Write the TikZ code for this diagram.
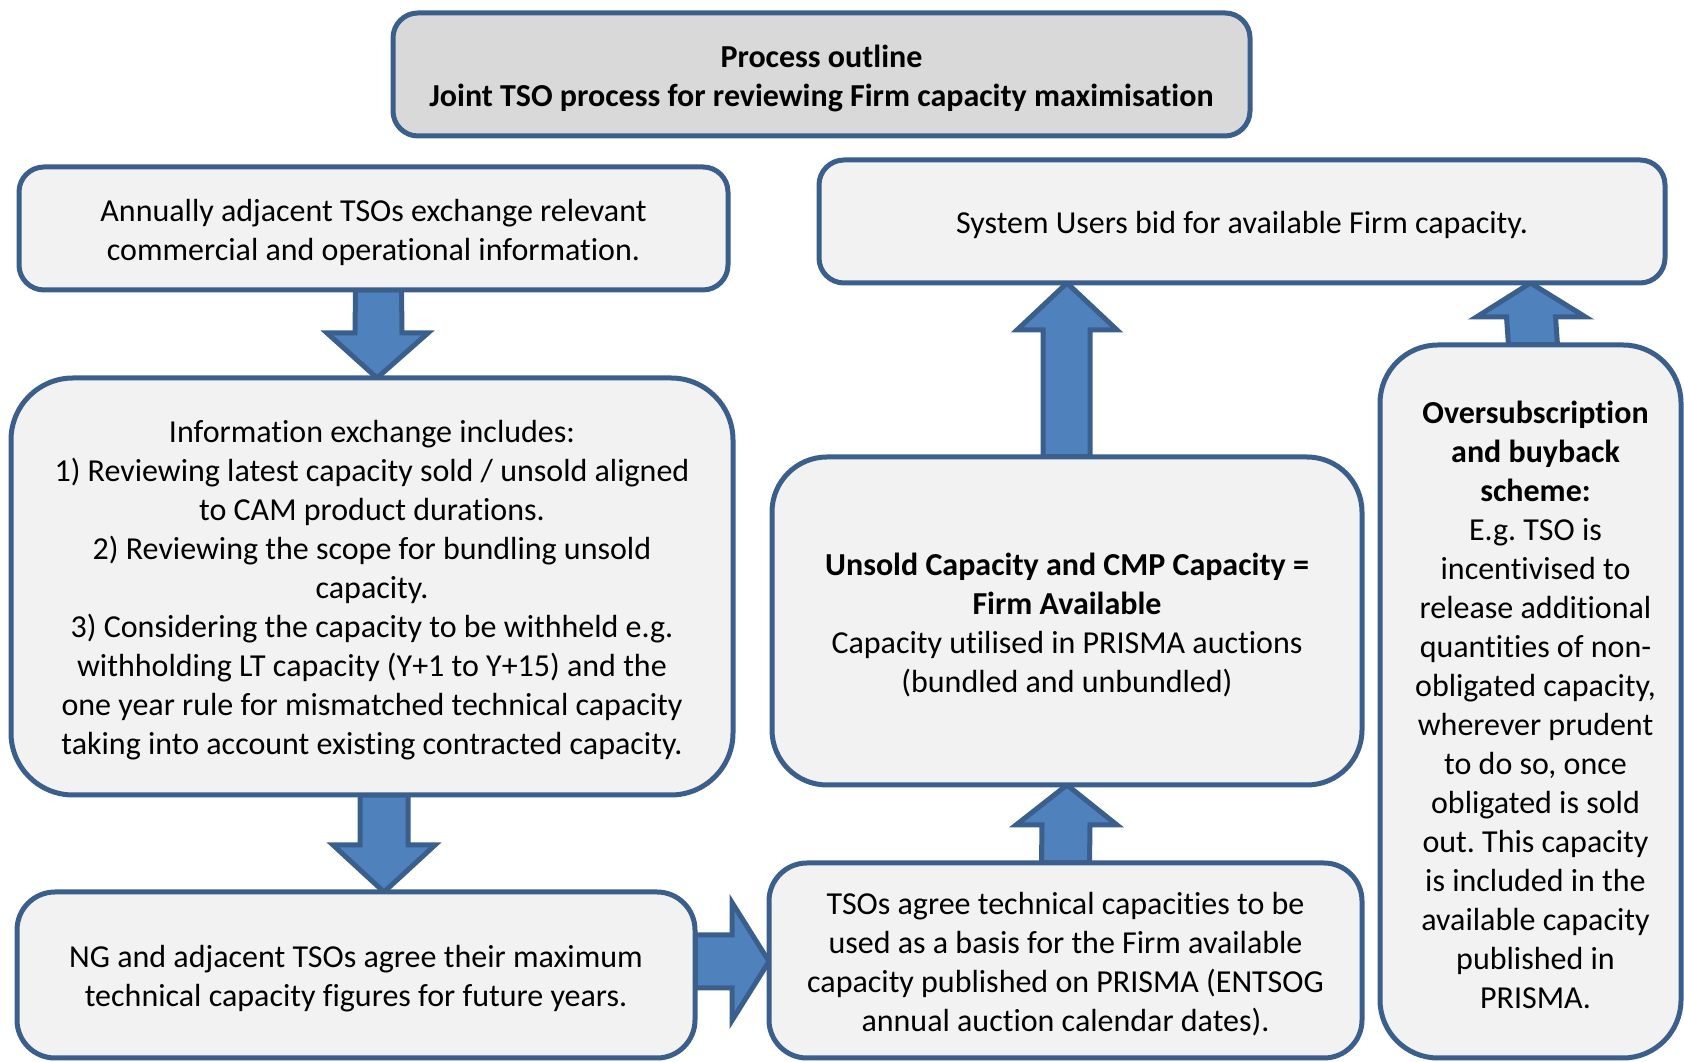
\documentclass[tikz,border=0pt]{standalone}
\usepackage{fontspec}
\setmainfont[Ligatures=NoCommon]{Carlito}
\usepackage{tikz}
\usepackage{xcolor}
\usetikzlibrary{positioning, calc, backgrounds}

\definecolor{boxborder}{HTML}{3A5F8C}
\definecolor{boxfill}{HTML}{F2F2F2}
\definecolor{titlefill}{HTML}{D9D9D9}
\definecolor{arrowfill}{HTML}{4F81BD}
\frenchspacing

\begin{document}
\begin{tikzpicture}[
        x=1pt, y=1pt,
        font=\fontsize{32}{39}\selectfont,
        stepbox/.style={rectangle, draw=boxborder, fill=boxfill, line width=5pt, rounded corners=25pt, align=flush center, inner sep=0pt, outer sep=0pt, execute at begin node={\rule{0pt}{30pt}}},
        titlebox/.style={stepbox, fill=titlefill, font=\fontsize{32}{39}\selectfont\bfseries},
        blockarrow/.style={draw=boxborder, fill=arrowfill, line width=5pt, line join=miter}
    ]
    \useasboundingbox (0,0) rectangle (1684,1062);

    % Heading
    \node (Title) [titlebox, minimum width=857, minimum height=123, text width=840] at (821.5,987.5) {Process outline\\Joint TSO process for reviewing Firm capacity maximisation};

    % Left column
    \node (Exchange) [stepbox, minimum width=709, minimum height=123, text width=690] at (373.5,833.5) {Annually adjacent TSOs exchange relevant\\commercial and operational information.};
    \node (Info) [stepbox, below=88pt of Exchange, minimum width=722, minimum height=417, text width=700, rounded corners=62pt, xshift=-1.5pt] {Information exchange includes:\\1) Reviewing latest capacity sold / unsold aligned\\to CAM product durations.\\2) Reviewing the scope for bundling unsold\\capacity.\\3) Considering the capacity to be withheld e.g.\\withholding LT capacity (Y+1 to Y+15) and the\\one year rule for mismatched technical capacity\\taking into account existing contracted capacity.};
    \node (AgreeNG) [stepbox, below=97pt of Info, minimum width=678, minimum height=166, text width=660, rounded corners=38pt, xshift=-16pt] {NG and adjacent TSOs agree their maximum\\technical capacity figures for future years.};

    % Middle column
    \node (AgreeTSO) [stepbox, right=74pt of AgreeNG.south east, anchor=south west, minimum width=593, minimum height=195, text width=575, rounded corners=38pt] {TSOs agree technical capacities to be\\used as a basis for the Firm available\\capacity published on PRISMA (ENTSOG\\annual auction calendar dates).};
    \node (Unsold) [stepbox, above=78pt of AgreeTSO, minimum width=590, minimum height=328, text width=572, rounded corners=55pt, xshift=1.5pt] {\textbf{Unsold Capacity and CMP Capacity =}\\\textbf{Firm Available}\\Capacity utilised in PRISMA auctions\\(bundled and unbundled)};
    \node (Bid) [stepbox, minimum width=846, minimum height=123, text width=828] at (1242,840.5) {System Users bid for available Firm capacity.};

    % Right column
    \node (Oversub) [stepbox, minimum width=301, minimum height=713, text width=290, rounded corners=58pt, execute at begin node={\rule{0pt}{30pt}\leftskip=10pt plus 1fil}] at (1530.5,360.5) {\textbf{Oversubscription}\\\textbf{and buyback}\\\textbf{scheme:}\\E.g. TSO is\\incentivised to\\release additional\\quantities of non-\\obligated capacity,\\wherever prudent\\to do so, once\\obligated is sold\\out. This capacity\\is included in the\\available capacity\\published in\\PRISMA.};

    \coordinate (TipE) at (Bid.south -| Unsold.north);
    \coordinate (TipF) at (Bid.south -| Oversub.north);

    % Block arrows behind the boxes
    \begin{scope}[on background layer]
    \draw[blockarrow] ($(Exchange.south)+(-18,0)$) -- ($(Exchange.south)+(28,0)$) -- ($(Info.north)+(30,45)$) -- ($(Info.north)+(56,45)$) -- ($(Info.north)+(5,0)$) -- ($(Info.north)+(-45,45)$) -- ($(Info.north)+(-17,45)$) -- cycle;
    \draw[blockarrow] ($(Info.south)+(-12,0)$) -- ($(Info.south)+(36,0)$) -- ($(AgreeNG.north)+(52,47)$) -- ($(AgreeNG.north)+(79,47)$) -- ($(AgreeNG.north)+(28,0)$) -- ($(AgreeNG.north)+(-23,47)$) -- ($(AgreeNG.north)+(4,47)$) -- cycle;
    \draw[blockarrow] ($(AgreeNG.east)+(0,40)$) -- ($(AgreeTSO.west)+(-37,25.5)$) -- ($(AgreeTSO.west)+(-37,58)$) -- ($(AgreeTSO.west)+(0,-1)$) -- ($(AgreeTSO.west)+(-37,-60)$) -- ($(AgreeTSO.west)+(-37,-27.5)$) -- ($(AgreeNG.east)+(0,-13)$) -- cycle;
    \draw[blockarrow] ($(AgreeTSO.north)+(-24,0)$) -- ($(AgreeTSO.north)+(24,0)$) -- ($(Unsold.south)+(23,-40)$) -- ($(Unsold.south)+(50,-40)$) -- (Unsold.south) -- ($(Unsold.south)+(-51,-40)$) -- ($(Unsold.south)+(-25,-40)$) -- cycle;
    \draw[blockarrow] ($(Unsold.north)+(-24,0)$) -- ($(Unsold.north)+(23,0)$) -- ($(TipE)+(23,-47)$) -- ($(TipE)+(50,-47)$) -- (TipE) -- ($(TipE)+(-50,-47)$) -- ($(TipE)+(-24,-47)$) -- cycle;
    \draw[blockarrow] ($(Oversub.north)+(-22,0)$) -- ($(Oversub.north)+(27,0)$) -- ($(TipF)+(25,-34)$) -- ($(TipF)+(55,-34)$) -- (TipF) -- ($(TipF)+(-54,-34)$) -- ($(TipF)+(-24,-34)$) -- cycle;
    \end{scope}

\end{tikzpicture}
\end{document}
